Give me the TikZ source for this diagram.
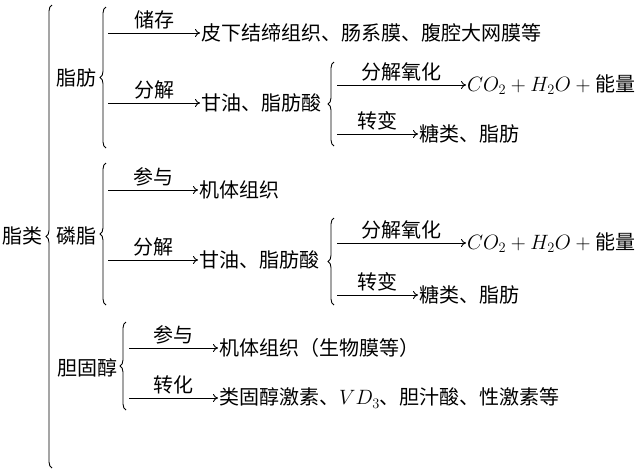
\documentclass[tikz,border=0pt]{standalone}
\usepackage{fontspec}
\setmainfont{Noto Sans CJK SC}
\usetikzlibrary{arrows.meta, decorations.pathreplacing}

\begin{document}
\begin{tikzpicture}[
    x=1pt, y=-1pt,
    every node/.style={font=\fontsize{20}{24}\selectfont, inner sep=1pt},
    item/.style={anchor=west},
    arrow/.style={-{To[length=5pt, width=8pt]}, line width=0.9pt},
    verb/.style={above=2pt, midway},
    curly/.style={decorate, decoration={brace, amplitude=6pt}, line width=0.9pt}
  ]
  \useasboundingbox (0,0) rectangle (640,472);

  % root
  \node (lipid) at (22,236) {脂类};
  \coordinate (lipidtop) at (52,5);
  \coordinate (lipidbot) at (52,468);
  \draw[curly] (lipidbot) -- (lipidtop);

  % fat
  \node (fat) at (76,78) {脂肪};
  \coordinate (fattop) at (106,7);
  \coordinate (fatbot) at (106,148);
  \draw[curly] (fatbot) -- (fattop);

  \coordinate (fatstore) at (108,33);
  \node[item] (depot) at (200,33) {皮下结缔组织、肠系膜、腹腔大网膜等};
  \draw[arrow] (fatstore) -- (depot.west) node[verb] {储存};

  \coordinate (fatsplit) at (108,103);
  \node[item] (fatacid) at (200,103) {甘油、脂肪酸};
  \draw[arrow] (fatsplit) -- (fatacid.west) node[verb] {分解};

  \coordinate (acidtop) at (334,62);
  \coordinate (acidbot) at (334,146);
  \draw[curly] (acidbot) -- (acidtop);

  \coordinate (acidox) at (337,85);
  \node[item] (energy) at (466,85) {$CO_2+H_2O+{}$能量};
  \draw[arrow] (acidox) -- (energy.west) node[verb] {分解氧化};

  \coordinate (acidturn) at (337,134);
  \node[item] (sugar) at (418,134) {糖类、脂肪};
  \draw[arrow] (acidturn) -- (sugar.west) node[verb] {转变};

  % phospholipid
  \node (phos) at (76,236) {磷脂};
  \coordinate (phostop) at (106,163);
  \coordinate (phosbot) at (106,305);
  \draw[curly] (phosbot) -- (phostop);

  \coordinate (phosjoin) at (108,190);
  \node[item] (tissue) at (198,190) {机体组织};
  \draw[arrow] (phosjoin) -- (tissue.west) node[verb] {参与};

  \coordinate (phossplit) at (108,260);
  \node[item] (phosacid) at (198,260) {甘油、脂肪酸};
  \draw[arrow] (phossplit) -- (phosacid.west) node[verb] {分解};

  \coordinate (pacidtop) at (334,218);
  \coordinate (pacidbot) at (334,305);
  \draw[curly] (pacidbot) -- (pacidtop);

  \coordinate (pacidox) at (337,243);
  \node[item] (penergy) at (466,243) {$CO_2+H_2O+{}$能量};
  \draw[arrow] (pacidox) -- (penergy.west) node[verb] {分解氧化};

  \coordinate (pacidturn) at (337,295);
  \node[item] (psugar) at (418,295) {糖类、脂肪};
  \draw[arrow] (pacidturn) -- (psugar.west) node[verb] {转变};

  % cholesterol
  \node (chol) at (87,368) {胆固醇};
  \coordinate (choltop) at (126,322);
  \coordinate (cholbot) at (126,410);
  \draw[curly] (cholbot) -- (choltop);

  \coordinate (choljoin) at (129,348);
  \node[item] (membrane) at (218,348) {机体组织（生物膜等）};
  \draw[arrow] (choljoin) -- (membrane.west) node[verb] {参与};

  \coordinate (cholturn) at (129,398);
  \node[item] (steroid) at (218,398) {类固醇激素、$VD_3$、胆汁酸、性激素等};
  \draw[arrow] (cholturn) -- (steroid.west) node[verb] {转化};
\end{tikzpicture}
\end{document}
